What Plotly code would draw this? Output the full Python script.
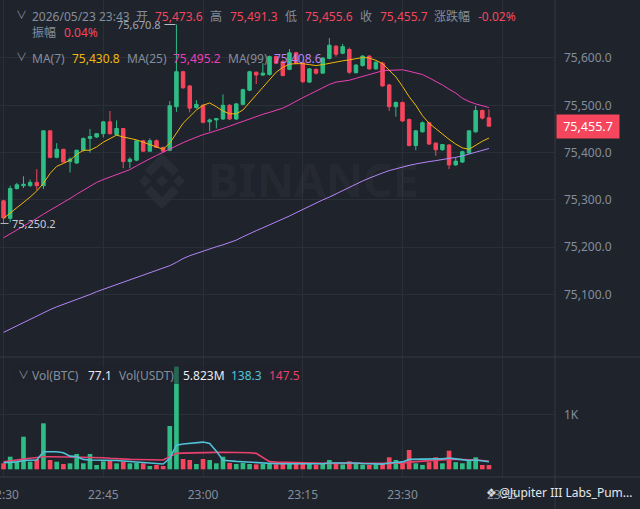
import plotly.graph_objects as go

# ---------------- data ----------------
times = [
    "2026-05-23 22:30", "2026-05-23 22:31", "2026-05-23 22:32", "2026-05-23 22:33", "2026-05-23 22:34",
    "2026-05-23 22:35", "2026-05-23 22:36", "2026-05-23 22:37", "2026-05-23 22:38", "2026-05-23 22:39",
    "2026-05-23 22:40", "2026-05-23 22:41", "2026-05-23 22:42", "2026-05-23 22:43", "2026-05-23 22:44",
    "2026-05-23 22:45", "2026-05-23 22:46", "2026-05-23 22:47", "2026-05-23 22:48", "2026-05-23 22:49",
    "2026-05-23 22:50", "2026-05-23 22:51", "2026-05-23 22:52", "2026-05-23 22:53", "2026-05-23 22:54",
    "2026-05-23 22:55", "2026-05-23 22:56", "2026-05-23 22:57", "2026-05-23 22:58", "2026-05-23 22:59",
    "2026-05-23 23:00", "2026-05-23 23:01", "2026-05-23 23:02", "2026-05-23 23:03", "2026-05-23 23:04",
    "2026-05-23 23:05", "2026-05-23 23:06", "2026-05-23 23:07", "2026-05-23 23:08", "2026-05-23 23:09",
    "2026-05-23 23:10", "2026-05-23 23:11", "2026-05-23 23:12", "2026-05-23 23:13", "2026-05-23 23:14",
    "2026-05-23 23:15", "2026-05-23 23:16", "2026-05-23 23:17", "2026-05-23 23:18", "2026-05-23 23:19",
    "2026-05-23 23:20", "2026-05-23 23:21", "2026-05-23 23:22", "2026-05-23 23:23", "2026-05-23 23:24",
    "2026-05-23 23:25", "2026-05-23 23:26", "2026-05-23 23:27", "2026-05-23 23:28", "2026-05-23 23:29",
    "2026-05-23 23:30", "2026-05-23 23:31", "2026-05-23 23:32", "2026-05-23 23:33", "2026-05-23 23:34",
    "2026-05-23 23:35", "2026-05-23 23:36", "2026-05-23 23:37", "2026-05-23 23:38", "2026-05-23 23:39",
    "2026-05-23 23:40", "2026-05-23 23:41", "2026-05-23 23:42", "2026-05-23 23:43",
]

opens = [
    75298, 75261, 75324, 75330, 75330, 75337, 75330, 75446, 75390, 75407,
    75381, 75378, 75405, 75430, 75433, 75440, 75465, 75438, 75451, 75381,
    75384, 75425, 75403, 75425, 75411, 75405, 75497, 75571, 75541, 75495,
    75500, 75465, 75469, 75471, 75500, 75471, 75502, 75532, 75570, 75564,
    75565, 75603, 75592, 75576, 75611, 75590, 75549, 75576, 75568, 75599,
    75625, 75610, 75618, 75569, 75584, 75604, 75577, 75589, 75543, 75497,
    75506, 75470, 75415, 75444, 75463, 75420, 75406, 75416, 75374, 75380,
    75399, 75444, 75489, 75473.6,
]
highs = [
    75300, 75330, 75336, 75350, 75343, 75365, 75447, 75447, 75420, 75408,
    75390, 75406, 75432, 75450, 75441, 75467, 75488, 75468, 75452, 75390,
    75426, 75427, 75430, 75428, 75413, 75509, 75670.8, 75573, 75543, 75511,
    75502, 75472, 75473, 75523, 75503, 75505, 75535, 75573, 75571, 75589,
    75605, 75605, 75596, 75619, 75613, 75592, 75578, 75578, 75601, 75642,
    75627, 75630, 75622, 75587, 75606, 75606, 75593, 75592, 75545, 75508,
    75508, 75472, 75448, 75466, 75465, 75422, 75418, 75418, 75390, 75404,
    75447, 75499, 75491, 75491.3,
]
lows = [
    75250.2, 75253, 75322, 75325, 75328, 75321, 75323, 75388, 75388, 75379,
    75358, 75376, 75402, 75400, 75431, 75432, 75438, 75436, 75367, 75367,
    75382, 75402, 75402, 75410, 75400, 75403, 75486, 75535, 75485, 75493,
    75462, 75445, 75451, 75469, 75469, 75469, 75500, 75530, 75545, 75562,
    75563, 75587, 75561, 75574, 75587, 75547, 75547, 75565, 75567, 75597,
    75603, 75608, 75566, 75567, 75582, 75575, 75575, 75539, 75488, 75476,
    75465, 75413, 75405, 75442, 75416, 75393, 75404, 75365, 75372, 75378,
    75397, 75442, 75470, 75455.6,
]
closes = [
    75262, 75324, 75332, 75333, 75337, 75330, 75446, 75390, 75407, 75380,
    75386, 75405, 75430, 75434, 75440, 75465, 75440, 75451, 75381, 75386,
    75425, 75403, 75425, 75411, 75403, 75499, 75571, 75537, 75494, 75502,
    75464, 75469, 75472, 75500, 75471, 75503, 75533, 75571, 75564, 75568,
    75603, 75589, 75563, 75611, 75589, 75550, 75577, 75568, 75600, 75627,
    75608, 75624, 75570, 75585, 75604, 75577, 75591, 75541, 75497, 75506,
    75467, 75415, 75446, 75463, 75418, 75406, 75417, 75374, 75382, 75402,
    75446, 75489, 75473, 75455.7,
]

ma7 = [
    75261, 75272, 75283, 75294, 75306, 75319, 75335, 75356, 75371, 75377,
    75384, 75396, 75405, 75405, 75412, 75422, 75430, 75437, 75433, 75430,
    75427, 75422, 75417, 75412, 75407, 75420, 75440, 75462, 75476, 75490,
    75500, 75505, 75497, 75488, 75482, 75482, 75490, 75505, 75522, 75538,
    75555, 75570, 75580, 75587, 75588, 75588, 75586, 75584, 75586, 75589,
    75592, 75594, 75596, 75599, 75601, 75600, 75595, 75588, 75575, 75560,
    75540, 75518, 75500, 75478, 75462, 75450, 75438, 75428, 75418, 75410,
    75407, 75416, 75424, 75430.8,
]
ma25 = [
    75220, 75228, 75236, 75244, 75253, 75261, 75270, 75278, 75286, 75295,
    75303, 75312, 75320, 75329, 75337, 75343, 75348, 75353, 75358, 75364,
    75372, 75380, 75387, 75394, 75401, 75408, 75415, 75421, 75427, 75433,
    75438, 75442, 75446, 75451, 75456, 75461, 75467, 75472, 75476, 75481,
    75485, 75490, 75494, 75501, 75509, 75516, 75523, 75530, 75537, 75544,
    75549, 75551, 75553, 75557, 75561, 75565, 75569, 75573, 75574, 75575,
    75575, 75572, 75569, 75565, 75558, 75551, 75543, 75534, 75526, 75515,
    75508, 75503, 75499, 75495.2,
]
ma99 = [
    75020, 75027, 75034, 75041, 75048, 75054, 75061, 75068, 75074, 75079,
    75085, 75090, 75095, 75100, 75106, 75111, 75116, 75121, 75126, 75131,
    75136, 75141, 75146, 75151, 75156, 75161, 75168, 75176, 75182, 75187,
    75192, 75197, 75201, 75205, 75210, 75215, 75222, 75229, 75235, 75241,
    75247, 75253, 75259, 75266, 75273, 75280, 75287, 75293, 75300, 75306,
    75313, 75320, 75327, 75334, 75340, 75346, 75352, 75357, 75362, 75366,
    75370, 75373, 75376, 75379, 75381, 75383, 75385, 75387, 75390, 75393,
    75397, 75401, 75405, 75408.6,
]

vol_btc = [
    109, 229, 138, 593, 138, 182, 836, 169, 138, 96,
    109, 278, 109, 278, 78, 145, 169, 109, 138, 109,
    116, 109, 60, 78, 60, 787, 1866, 187, 169, 96,
    187, 169, 109, 229, 116, 96, 116, 96, 90, 100,
    110, 90, 96, 110, 96, 109, 100, 85, 100, 169,
    100, 90, 145, 96, 85, 80, 90, 100, 218, 169,
    109, 351, 109, 80, 130, 218, 109, 338, 130, 110,
    150, 218, 78, 77.1,
]
vol_ma5 = [
    120, 125, 135, 160, 165, 170, 320, 320, 320, 300,
    240, 230, 180, 170, 170, 170, 165, 160, 150, 140,
    135, 130, 115, 100, 96, 200, 440, 460, 470, 480,
    495, 470, 330, 165, 150, 145, 138, 130, 120, 110,
    105, 100, 100, 100, 100, 100, 100, 100, 100, 115,
    115, 110, 120, 115, 105, 100, 95, 95, 115, 130,
    135, 180, 185, 185, 185, 190, 190, 205, 190, 175,
    160, 170, 150, 138.3,
]
vol_ma10 = [
    138, 150, 165, 185, 200, 215, 229, 229, 229, 229,
    225, 222, 220, 215, 215, 210, 200, 190, 182, 180,
    178, 175, 170, 168, 168, 230, 290, 295, 300, 302,
    305, 306, 308, 309, 309, 309, 309, 300, 290, 220,
    140, 130, 125, 120, 118, 115, 112, 110, 108, 108,
    108, 108, 110, 110, 108, 105, 100, 100, 105, 108,
    110, 130, 140, 150, 160, 165, 170, 180, 182, 180,
    175, 170, 160, 147.5,
]

price_ticks = [75100, 75200, 75300, 75400, 75500, 75600]
vol_ticks = [1000]
vol_tick_labels = ["1K"]
header_date = "2026/05/23 23:43"
change_pct = "-0.02%"
amplitude_pct = "0.04%"
vol_usdt_text = "5.823M"

# ---------------- style ----------------
W, H = 640, 509
ML, MR, MT, MB = 0, 85, 0, 32
PW, PH = W - ML - MR, H - MT - MB
BG = "#1f232b"
GRID = "#2a2f38"
SEP = "#343a44"
GRAY = "#848e9c"
UP = "#2ebd85"
DOWN = "#f6465d"
C_MA7 = "#f0b90b"
C_MA25 = "#eb40b5"
C_MA99 = "#b385f8"
C_V5 = "#52c2d8"
C_V10 = "#e8416e"
FONT = "Noto Sans, Noto Sans CJK SC, sans-serif"

SPLIT = 357  # px, boundary between price and volume panes
dom_split = (PH - SPLIT) / PH


def X(px):
    return px / PW


def Y(py):
    return (PH - py) / PH


bar_colors = [UP if c >= o else DOWN for o, c in zip(opens, closes)]

fig = go.Figure()
fig.add_trace(go.Candlestick(
    x=times, open=opens, high=highs, low=lows, close=closes,
    increasing=dict(line=dict(color=UP, width=1), fillcolor=UP),
    decreasing=dict(line=dict(color=DOWN, width=1), fillcolor=DOWN),
    whiskerwidth=0, xaxis="x", yaxis="y", hoverinfo="skip",
))
for vals, col in [(ma99, C_MA99), (ma25, C_MA25), (ma7, C_MA7)]:
    fig.add_trace(go.Scatter(x=times, y=vals, mode="lines",
                             line=dict(color=col, width=1), xaxis="x", yaxis="y",
                             hoverinfo="skip"))

fig.add_trace(go.Bar(x=times, y=vol_btc, marker=dict(color=bar_colors, line=dict(width=0)),
                     width=42000, xaxis="x2", yaxis="y2", hoverinfo="skip"))
for vals, col in [(vol_ma10, C_V10), (vol_ma5, C_V5)]:
    fig.add_trace(go.Scatter(x=times, y=vals, mode="lines",
                             line=dict(color=col, width=1.6), xaxis="x2", yaxis="y2",
                             hoverinfo="skip"))

xrange = ["2026-05-23 22:29:28", "2026-05-23 23:52:56"]
common_x = dict(type="date", range=xrange, dtick=900000, tick0="2026-05-23 22:30",
                showgrid=True, gridcolor=GRID, gridwidth=1, zeroline=False,
                showline=False, ticks="", fixedrange=True, automargin=False)

fig.update_layout(
    width=W, height=H,
    margin=dict(l=ML, r=MR, t=MT, b=MB, autoexpand=False),
    paper_bgcolor=BG, plot_bgcolor=BG,
    showlegend=False,
    boxgap=0.25,
    font=dict(family=FONT, color=GRAY, size=12),
    xaxis=dict(**common_x, anchor="y", showticklabels=False,
               rangeslider=dict(visible=False)),
    xaxis2=dict(**common_x, anchor="y2", matches="x", showticklabels=True,
                tickformat="%H:%M", tickfont=dict(size=12, color=GRAY),
                ticklabelstandoff=9, ticklabeloverflow="allow"),
    yaxis=dict(domain=[dom_split, 1], range=[74967.9, 75722.6], side="right",
               tickvals=price_ticks, tickformat=",.1f", showgrid=True,
               gridcolor=GRID, zeroline=False, ticks="", ticklabelstandoff=8,
               tickfont=dict(size=12, color=GRAY), fixedrange=True, automargin=False),
    yaxis2=dict(domain=[0, dom_split], range=[-140, 2042], side="right",
                tickvals=vol_ticks, ticktext=vol_tick_labels, showgrid=True,
                gridcolor=GRID, zeroline=False, ticks="", ticklabelstandoff=8,
                tickfont=dict(size=12, color=GRAY), fixedrange=True, automargin=False),
)

shapes = []
# pane separators
shapes.append(dict(type="line", xref="paper", yref="paper", x0=0, x1=W / PW,
                   y0=Y(SPLIT), y1=Y(SPLIT), line=dict(color=SEP, width=1)))
shapes.append(dict(type="line", xref="paper", yref="paper", x0=0, x1=W / PW,
                   y0=0, y1=0, line=dict(color=SEP, width=1)))
shapes.append(dict(type="line", xref="paper", yref="paper", x0=1, x1=1,
                   y0=Y(H), y1=1, line=dict(color=SEP, width=1)))
# translucent backing behind the volume legend row
shapes.append(dict(type="rect", xref="paper", yref="paper", x0=X(12), x1=X(300),
                   y0=Y(384), y1=Y(366), fillcolor="rgba(31,35,43,0.55)",
                   line=dict(width=0), layer="above"))

# watermark logo (faint)
WM = "rgba(255,255,255,0.045)"


def poly(pts):
    s = "M " + " L ".join(f"{X(a):.5f},{Y(b):.5f}" for a, b in pts) + " Z"
    return dict(type="path", xref="paper", yref="paper", path=s,
                fillcolor=WM, line=dict(width=0), layer="below")


cx, cy = 162, 181
for dx in (-17, 0, 17):
    r = 6
    shapes.append(poly([(cx + dx, cy - r), (cx + dx + r, cy), (cx + dx, cy + r), (cx + dx - r, cy)]))
shapes.append(poly([(cx - 17, cy - 11), (cx, cy - 28), (cx + 17, cy - 11), (cx + 11, cy - 5),
                    (cx, cy - 16), (cx - 11, cy - 5)]))
shapes.append(poly([(cx - 17, cy + 11), (cx, cy + 28), (cx + 17, cy + 11), (cx + 11, cy + 5),
                    (cx, cy + 16), (cx - 11, cy + 5)]))

# high / low marker dashes
i_hi = highs.index(max(highs))
i_lo = lows.index(min(lows))
shapes.append(dict(type="line", xref="x", yref="y", xsizemode="pixel", xanchor=times[i_hi],
                   x0=-12, x1=-1, y0=highs[i_hi], y1=highs[i_hi],
                   line=dict(color="#b7bdc6", width=1)))
shapes.append(dict(type="line", xref="x", yref="y", xsizemode="pixel", xanchor=times[i_lo],
                   x0=-3, x1=5, y0=lows[i_lo], y1=lows[i_lo],
                   line=dict(color="#b7bdc6", width=1)))
fig.update_layout(shapes=shapes)

anns = []


def txt(x, y, s, color=GRAY, size=12, anchor="left", family=FONT):
    anns.append(dict(xref="paper", yref="paper", x=X(x), y=Y(y), text=s, showarrow=False,
                     xanchor=anchor, yanchor="middle",
                     font=dict(color=color, size=size, family=family)))


# header
txt(14, 15, "∨", GRAY, 11)
txt(30, 16, header_date)
txt(134, 16, "开")
txt(153, 16, f"{opens[-1]:,.1f}", DOWN)
txt(208, 16, "高")
txt(228, 16, f"{highs[-1]:,.1f}", DOWN)
txt(283, 16, "低")
txt(303, 16, f"{lows[-1]:,.1f}", DOWN)
txt(358, 16, "收")
txt(378, 16, f"{closes[-1]:,.1f}", DOWN)
txt(432, 16, "涨跌幅")
txt(476, 16, change_pct, DOWN)
txt(30, 33, "振幅")
txt(62, 33, amplitude_pct, DOWN)

# MA legend
txt(14, 57, "∨", GRAY, 11)
txt(30, 58, "MA(7)")
txt(70, 58, f"{ma7[-1]:,.1f}", C_MA7)
txt(125, 58, "MA(25)")
txt(171, 58, f"{ma25[-1]:,.1f}", C_MA25)
txt(226, 58, "MA(99)")
txt(272, 58, f"{ma99[-1]:,.1f}", C_MA99)

# volume legend
txt(16, 374, "∨", GRAY, 11)
txt(30, 375, "Vol(BTC)")
txt(86, 375, f"{vol_btc[-1]:g}", "#eaecef")
txt(117, 375, "Vol(USDT)")
txt(181, 375, vol_usdt_text, "#eaecef")
txt(229, 375, f"{vol_ma5[-1]:g}", C_V5)
txt(267, 375, f"{vol_ma10[-1]:g}", C_V10)

# watermark text
txt(313, 179, "<b>BINANCE</b>", WM, 46, "center")
txt(484, 493, "❖", "#d5d8dc", 12, "left", "DejaVu Sans")
txt(497, 493, "@Jupiter III Labs_Pum...", "#e6e8ea", 12)

# high / low labels
anns.append(dict(xref="x", yref="y", x=times[i_hi], y=highs[i_hi], text=f"{highs[i_hi]:,.1f}",
                 showarrow=False, xanchor="right", yanchor="middle", xshift=-13,
                 font=dict(color="#a0a6b0", size=11, family=FONT)))
anns.append(dict(xref="x", yref="y", x=times[i_lo], y=lows[i_lo], text=f"{lows[i_lo]:,.1f}",
                 showarrow=False, xanchor="left", yanchor="middle", xshift=6,
                 font=dict(color="#c7ccd3", size=11, family=FONT)))

# last price tag
anns.append(dict(xref="paper", yref="y", x=1, y=closes[-1], text=f"{closes[-1]:,.1f}",
                 showarrow=False, xanchor="left", yanchor="middle", xshift=1,
                 bgcolor=DOWN, borderpad=3, width=56, align="center",
                 font=dict(color="#ffffff", size=12.5, family=FONT)))

fig.update_layout(annotations=anns)
fig.write_html("out.html", config={"displayModeBar": False},
               post_script="document.body.style.margin='0';document.body.style.padding='0';"
                           "document.body.style.background='" + BG + "';")
